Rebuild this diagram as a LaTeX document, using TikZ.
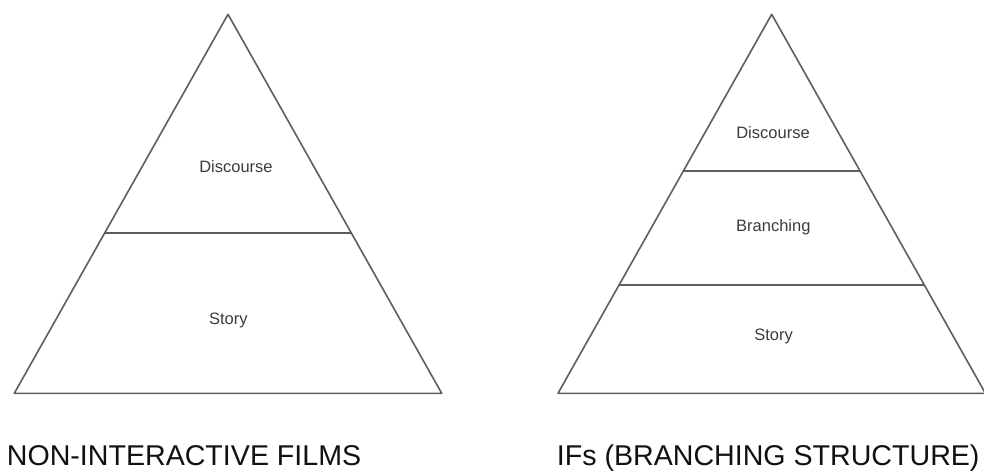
\documentclass[tikz,border=0pt]{standalone}
\usepackage{fontspec}
\setmainfont{Liberation Sans}
\usetikzlibrary{calc}
\definecolor{edgegray}{HTML}{5E5E5E}
\definecolor{labelgray}{HTML}{3C3C3C}
\definecolor{titleblack}{HTML}{111111}
\begin{document}
\begin{tikzpicture}[x=1pt,y=-1pt,
  tri/.style={draw=edgegray,line width=1.6pt,line join=round},
  divider/.style={draw=edgegray,line width=1.6pt},
  lbl/.style={anchor=base,inner sep=0pt,text=labelgray,font=\fontsize{16.5}{19}\selectfont},
  ttl/.style={anchor=base west,inner sep=0pt,text=titleblack,font=\fontsize{28.6}{32}\selectfont}]
\useasboundingbox (0,0) rectangle (984,471);
\fill[white] (0,0) rectangle (984,471);
% left pyramid
\coordinate (LA) at (228,14.3);
\coordinate (LL) at (14.3,393.3);
\coordinate (LR) at (441.7,393.3);
\draw[tri] (LA) -- (LL) -- (LR) -- cycle;
\draw[divider] ($(LA)!0.5763!(LL)$) -- ($(LA)!0.5763!(LR)$);
\node[lbl] (ldisc) at (236,172.3) {Discourse};
\node[lbl] (lstory) at (228.3,324.3) {Story};
% right pyramid
\coordinate (RA) at (771.7,14.3);
\coordinate (RL) at (558,393.3);
\coordinate (RR) at (985.4,393.3);
\draw[tri] (RA) -- (RL) -- (RR) -- cycle;
\draw[divider] ($(RA)!0.4135!(RL)$) -- ($(RA)!0.4135!(RR)$);
\draw[divider] ($(RA)!0.7138!(RL)$) -- ($(RA)!0.7138!(RR)$);
\node[lbl] (rdisc) at (773,138.3) {Discourse};
\node[lbl] (rbranch) at (773.3,231.7) {Branching};
\node[lbl] (rstory) at (773.5,340.7) {Story};
% titles
\node[ttl] (ltitle) at (6.7,465) {NON-INTERACTIVE FILMS};
\node[ttl] (rtitle) at (556.7,465) {IFs (BRANCHING STRUCTURE)};
\end{tikzpicture}
\end{document}
